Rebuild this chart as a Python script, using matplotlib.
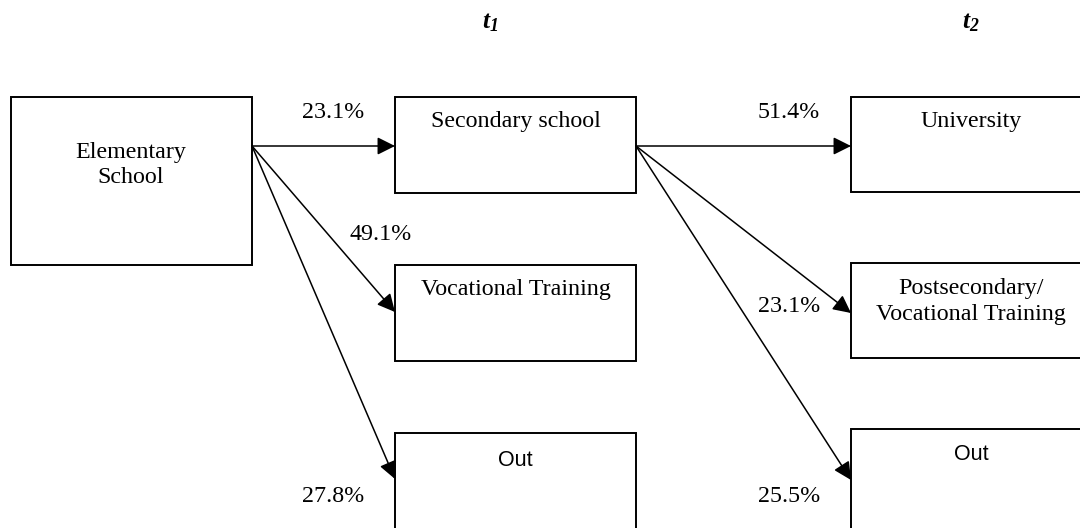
import matplotlib
matplotlib.use("Agg")
import matplotlib.pyplot as plt
from matplotlib.patches import Rectangle

# ---- data ----
stage_labels = ["t_1", "t_2"]
source_nodes = ["Elementary\nSchool", "Secondary school"]
t1_nodes = ["Secondary school", "Vocational Training", "Out"]
t2_nodes = ["University", "Postsecondary/\nVocational Training", "Out"]
from_elementary_pct = [23.1, 49.1, 27.8]
from_secondary_pct = [51.4, 23.1, 25.5]

# ---- layout (pixel coordinates, y downward) ----
W, H = 1080, 528
plt.rcParams['mathtext.fontset'] = 'custom'
plt.rcParams['mathtext.bfit'] = 'Liberation Serif:italic:bold'
plt.rcParams['mathtext.it'] = 'Liberation Serif:italic'
plt.rcParams['mathtext.rm'] = 'Liberation Serif'

fig = plt.figure(figsize=(W / 100, H / 100), dpi=100)
ax = fig.add_axes([0, 0, 1, 1])
ax.set_xlim(0, W)
ax.set_ylim(H, 0)
ax.axis('off')

serif = 'Liberation Serif'
sans = 'Liberation Sans'
FS = 17.3
FS_SANS = 15.5
LS = 1.3

box_lw = 1.4

def box(l, t, r, b):
    ax.add_patch(Rectangle((l, t), r - l, b - t, fill=True, facecolor='white',
                           edgecolor='black', lw=box_lw, zorder=2))

# boxes: left, top, right, bottom
elem_box = (11, 97, 252, 265)
t1_boxes = [(395, 97, 636, 193), (395, 265, 636, 361), (395, 433, 636, 620)]
t2_boxes = [(851, 97, 1092, 192), (851, 263, 1092, 358), (851, 429, 1092, 620)]

box(*elem_box)
for b in t1_boxes + t2_boxes:
    box(*b)

# node labels
ax.text(131, 165, source_nodes[0], ha='center', va='center', family=serif,
        fontsize=FS, linespacing=LS, zorder=3)
t1_text_y = [122, 290, 460]
t2_text_y = [122, 301.5, 455]
for name, (l, t, r, b), y in zip(t1_nodes, t1_boxes, t1_text_y):
    fam = sans if name == "Out" else serif
    ax.text((l + r) / 2, y, name, ha='center', va='center', family=fam,
            fontsize=FS if fam == serif else FS_SANS, zorder=3)
for name, (l, t, r, b), y in zip(t2_nodes, t2_boxes, t2_text_y):
    fam = sans if name == "Out" else serif
    ax.text(971, y, name, ha='center', va='center', family=fam,
            fontsize=FS if fam == serif else FS_SANS, linespacing=LS, zorder=3)

# stage headers
stage_x = [490, 971]
for lab, x in zip(stage_labels, stage_x):
    base, sub = lab.split('_')
    ax.text(x, 22, r'$\mathbfit{%s}_{\mathbfit{%s}}$' % (base, sub), ha='center',
            va='center', fontsize=FS + 1, zorder=3)

# arrows
arrow_kw = dict(arrowstyle='-|>,head_length=1.08,head_width=0.54', mutation_scale=10,
                color='black', lw=1.1, shrinkA=0, shrinkB=0)
src1 = (252, 146)
tips1 = [(395, 146), (395, 312), (395, 479)]
src2 = (636, 146)
tips2 = [(851, 146), (851, 313), (851, 480)]
for tip in tips1:
    ax.annotate('', xy=tip, xytext=src1, arrowprops=arrow_kw, zorder=4)
for tip in tips2:
    ax.annotate('', xy=tip, xytext=src2, arrowprops=arrow_kw, zorder=4)

# percentages
pct_pos1 = [(333, 113), (381, 234), (333, 497)]
pct_pos2 = [(789, 113), (789, 307), (789, 497)]
for v, (x, y) in zip(from_elementary_pct, pct_pos1):
    ax.text(x, y, f"{v:.1f}%", ha='center', va='center', family=serif, fontsize=FS, zorder=3)
for v, (x, y) in zip(from_secondary_pct, pct_pos2):
    ax.text(x, y, f"{v:.1f}%", ha='center', va='center', family=serif, fontsize=FS, zorder=3)

fig.savefig('out.png', dpi=100, facecolor='white')
